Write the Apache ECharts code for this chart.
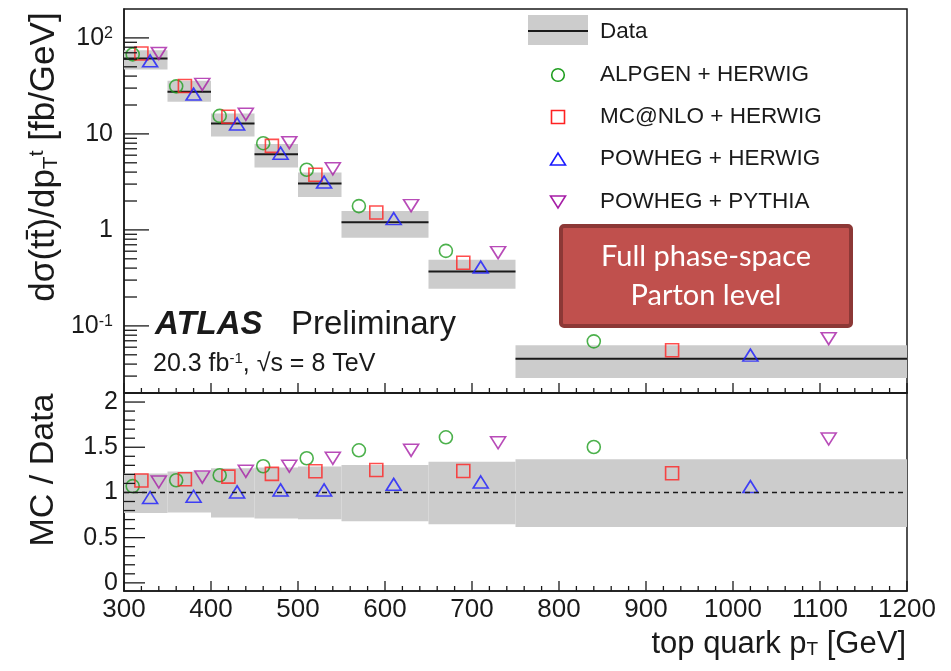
<!DOCTYPE html>
<html>
<head>
<meta charset="utf-8">
<script src="https://cdn.jsdelivr.net/npm/echarts@6/dist/echarts.min.js"></script>
<style>
  html, body { margin: 0; padding: 0; background: #fff; }
  #chart { width: 951px; height: 671px; }
</style>
</head>
<body>
<div id="chart"></div>
<script>
// top quark pT bins [GeV]
const binLow  = [300, 350, 400, 450, 500, 550, 650, 750];
const binHigh = [350, 400, 450, 500, 550, 650, 750, 1200];

// measured cross section dσ/dpT [fb/GeV] with total uncertainty band
const dataXsec = [61, 27.5, 12.8, 6.15, 3.05, 1.2, 0.369, 0.0454];
const dataUp   = [74.5, 35.8, 16.3, 7.87, 3.96, 1.57, 0.49, 0.063];
const dataDown = [47, 21.6, 9.4, 4.47, 2.2, 0.83, 0.244, 0.0286];

// predictions (x positions are shifted inside each bin)
const alpgenX  = [310, 360, 410, 460, 510, 570, 670, 840];
const mcnloX   = [320, 370, 420, 470, 520, 590, 690, 930];
const powhegHX = [330, 380, 430, 480, 530, 610, 710, 1020];
const powhegPX = [340, 390, 440, 490, 540, 630, 730, 1110];

const alpgenXsec  = [67.3, 31.3, 15.4, 8.0, 4.23, 1.77, 0.605, 0.069];
const mcnloXsec   = [68.9, 31.5, 15.1, 7.5, 3.75, 1.52, 0.455, 0.0558];
const powhegHXsec = [57.7, 26.0, 12.7, 6.3, 3.15, 1.31, 0.41, 0.0496];
const powhegPXsec = [68.9, 32.8, 16.0, 8.1, 4.33, 1.79, 0.58, 0.0736];

// MC / Data ratio
const alpgenRatio  = [1.07, 1.135, 1.19, 1.29, 1.378, 1.466, 1.61, 1.503];
const mcnloRatio   = [1.133, 1.146, 1.175, 1.205, 1.234, 1.249, 1.238, 1.212];
const powhegHRatio = [0.944, 0.958, 1.006, 1.028, 1.028, 1.09, 1.116, 1.065];
const powhegPRatio = [1.116, 1.17, 1.234, 1.29, 1.378, 1.466, 1.55, 1.591];
const ratioUp   = [1.21, 1.231, 1.267, 1.275, 1.286, 1.304, 1.34, 1.367];
const ratioDown = [0.773, 0.778, 0.722, 0.711, 0.704, 0.682, 0.649, 0.619];
const ratioRef = 1;

// axis ranges and ticks
const xMin = 300, xMax = 1200;
const xsecMin = 0.02, xsecMax = 200;
const ratioMin = -0.09, ratioMax = 2.1;
const xMajorTicks = [300, 400, 500, 600, 700, 800, 900, 1000, 1100, 1200];
const xMinorTicks = [320, 340, 360, 380, 420, 440, 460, 480, 520, 540, 560, 580,
  620, 640, 660, 680, 720, 740, 760, 780, 820, 840, 860, 880,
  920, 940, 960, 980, 1020, 1040, 1060, 1080, 1120, 1140, 1160, 1180];
const logTickValues = [0.1, 1, 10, 100];
const logTickLabels = ['{b|10}{s|-1}', '{b|1}', '{b|10}', '{b|10}{s|2}'];
const logMinorTicks = [0.03, 0.04, 0.05, 0.06, 0.07, 0.08, 0.09,
  0.2, 0.3, 0.4, 0.5, 0.6, 0.7, 0.8, 0.9,
  2, 3, 4, 5, 6, 7, 8, 9,
  20, 30, 40, 50, 60, 70, 80, 90];
const ratioMajorTicks = [0, 0.5, 1, 1.5, 2];
const ratioMinorTicks = [0.1, 0.2, 0.3, 0.4, 0.6, 0.7, 0.8, 0.9,
  1.1, 1.2, 1.3, 1.4, 1.6, 1.7, 1.8, 1.9];

const FONT = "'Liberation Sans', Arial, Helvetica, sans-serif";
const INK = '#1a1a1a';

const chart = echarts.init(document.getElementById('chart'));

// gray band (+ optional central line) for each bin
function bandRender(withLine) {
  return function (params, api) {
    const lo = api.value(0), hi = api.value(1);
    const pTop = api.coord([lo, api.value(4)]);
    const pBot = api.coord([hi, api.value(3)]);
    const children = [{
      type: 'rect',
      shape: { x: pTop[0], y: pTop[1], width: pBot[0] - pTop[0], height: pBot[1] - pTop[1] },
      style: { fill: '#cccccc' }
    }];
    if (withLine) {
      const c0 = api.coord([lo, api.value(2)]);
      const c1 = api.coord([hi, api.value(2)]);
      children.push({
        type: 'line',
        shape: { x1: c0[0], y1: c0[1], x2: c1[0], y2: c1[1] },
        style: { stroke: INK, lineWidth: 2 }
      });
    }
    return { type: 'group', children };
  };
}

// ROOT-style inward ticks on the left y axis, placed through the axis scale
let tickCount = 0;
function tickSeries(idx, values, len) {
  tickCount++;
  return {
    type: 'custom', id: 'yticks' + tickCount, name: 'yticks' + tickCount,
    xAxisIndex: idx, yAxisIndex: idx,
    silent: true, z: 5,
    encode: { x: 0, y: 1 },
    data: values.map(v => [xMin, v]),
    renderItem: (params, api) => {
      const p = api.coord([api.value(0), api.value(1)]);
      return {
        type: 'group',
        children: [{ type: 'rect', shape: { x: p[0], y: p[1] - 0.65, width: len, height: 1.3 }, style: { fill: INK } }]
      };
    }
  };
}

function mcSeries(name, idx, xs, ys, symbol, size, color, rotate) {
  return {
    name, type: 'scatter',
    xAxisIndex: idx, yAxisIndex: idx,
    data: xs.map((x, i) => [x, ys[i]]),
    symbol, symbolSize: size, symbolRotate: rotate || 0,
    itemStyle: { color: 'rgba(255,255,255,0)', borderColor: color, borderWidth: 1.6 },
    z: 4
  };
}

function xAxisFor(gridIndex, withLabels) {
  return {
    gridIndex, type: 'value', min: xMin, max: xMax, interval: 100,
    axisLine: { show: true, onZero: false, lineStyle: { color: INK, width: 1.5 } },
    axisTick: { show: false },
    splitLine: { show: false },
    axisLabel: withLabels
      ? { show: true, fontSize: 26, fontFamily: FONT, color: INK, margin: 6, formatter: v => String(v) }
      : { show: false }
  };
}

const GREEN = '#1f9e1f', RED = '#ff2222', BLUE = '#1a1aff', PURPLE = '#a61ea6';

chart.setOption({
  animation: false,
  grid: [
    { left: 124, top: 9, width: 783, height: 384, show: true, borderColor: INK, borderWidth: 1.5 },
    { left: 124, top: 393, width: 783, height: 198, show: true, borderColor: INK, borderWidth: 1.5 }
  ],
  xAxis: [xAxisFor(0, false), xAxisFor(1, true)],
  yAxis: [
    {
      gridIndex: 0, type: 'log', logBase: 10, min: xsecMin, max: xsecMax,
      axisLine: { show: true, onZero: false, lineStyle: { color: INK, width: 1.5 } },
      axisTick: { show: false },
      splitLine: { show: false },
      axisLabel: {
        margin: 11, showMinLabel: false, showMaxLabel: false,
        formatter: v => {
          const i = logTickValues.findIndex(t => Math.abs(Math.log10(t) - Math.log10(v)) < 1e-6);
          return i >= 0 ? logTickLabels[i] : '';
        },
        rich: {
          b: { fontSize: 25, fontFamily: FONT, color: INK },
          s: { fontSize: 16, fontFamily: FONT, color: INK, verticalAlign: 'top' }
        }
      }
    },
    {
      gridIndex: 1, type: 'value', min: ratioMin, max: ratioMax,
      axisLine: { show: true, onZero: false, lineStyle: { color: INK, width: 1.5 } },
      axisTick: { show: false },
      splitLine: { show: false },
      axisLabel: {
        margin: 6, showMinLabel: false, showMaxLabel: false,
        fontSize: 25, fontFamily: FONT, color: INK
      }
    }
  ],
  series: [
    {
      type: 'custom', name: 'Data', xAxisIndex: 0, yAxisIndex: 0, z: 2, silent: true,
      encode: { x: [0, 1], y: [2, 3, 4] },
      data: binLow.map((lo, i) => [lo, binHigh[i], dataXsec[i], dataDown[i], dataUp[i]]),
      renderItem: bandRender(true)
    },
    {
      type: 'custom', name: 'Data ratio', xAxisIndex: 1, yAxisIndex: 1, z: 2, silent: true,
      encode: { x: [0, 1], y: [2, 3, 4] },
      data: binLow.map((lo, i) => [lo, binHigh[i], ratioRef, ratioDown[i], ratioUp[i]]),
      renderItem: bandRender(false),
      markLine: {
        silent: true, symbol: 'none', label: { show: false },
        lineStyle: { color: INK, type: [5, 4], width: 1.3 },
        data: [{ yAxis: ratioRef }]
      }
    },
    tickSeries(0, logTickValues, 25),
    tickSeries(0, logMinorTicks, 13),
    tickSeries(1, ratioMajorTicks, 21),
    tickSeries(1, ratioMinorTicks, 11),
    mcSeries('ALPGEN + HERWIG', 0, alpgenX, alpgenXsec, 'circle', 13, GREEN),
    mcSeries('MC@NLO + HERWIG', 0, mcnloX, mcnloXsec, 'rect', 13, RED),
    mcSeries('POWHEG + HERWIG', 0, powhegHX, powhegHXsec, 'triangle', [15, 12], BLUE),
    mcSeries('POWHEG + PYTHIA', 0, powhegPX, powhegPXsec, 'triangle', [15, 12], PURPLE, 180),
    mcSeries('ALPGEN + HERWIG', 1, alpgenX, alpgenRatio, 'circle', 13, GREEN),
    mcSeries('MC@NLO + HERWIG', 1, mcnloX, mcnloRatio, 'rect', 13, RED),
    mcSeries('POWHEG + HERWIG', 1, powhegHX, powhegHRatio, 'triangle', [15, 12], BLUE),
    mcSeries('POWHEG + PYTHIA', 1, powhegPX, powhegPRatio, 'triangle', [15, 12], PURPLE, 180)
  ]
});

// bottom-axis ticks of both panels, positioned with the chart's own scales
const xTickMarks = [];
[[0, xsecMin], [1, ratioMin]].forEach(([idx, anchor]) => {
  [[xMajorTicks, 10], [xMinorTicks, 5]].forEach(([values, len]) => {
    values.forEach(v => {
      const p = chart.convertToPixel({ xAxisIndex: idx, yAxisIndex: idx }, [v, anchor]);
      xTickMarks.push({
        type: 'rect', z: 6, silent: true,
        shape: { x: p[0] - 0.65, y: p[1] - len, width: 1.3, height: len },
        style: { fill: INK }
      });
    });
  });
});

const labels = [
  // axis titles
  {
    type: 'text', x: 44, y: 157, rotation: Math.PI / 2, z: 10,
    style: {
      text: 'dσ(tt\u0304)/dp{sub|T}{sup|t} [fb/GeV]',
      fontSize: 35, fontFamily: FONT, fill: INK, align: 'center', verticalAlign: 'middle',
      rich: {
        sub: { fontSize: 21, fontFamily: FONT, fill: INK, verticalAlign: 'bottom' },
        sup: { fontSize: 21, fontFamily: FONT, fill: INK, verticalAlign: 'top' }
      }
    }
  },
  {
    type: 'text', x: 44, y: 470, rotation: Math.PI / 2, z: 10,
    style: { text: 'MC / Data', fontSize: 34, fontFamily: FONT, fill: INK, align: 'center', verticalAlign: 'middle' }
  },
  {
    type: 'text', x: 906, y: 644, z: 10,
    style: {
      text: 'top quark p{sub|T} [GeV]',
      fontSize: 31, fontFamily: FONT, fill: INK, align: 'right', verticalAlign: 'middle',
      rich: { sub: { fontSize: 19, fontFamily: FONT, fill: INK, verticalAlign: 'bottom' } }
    }
  },
  // ATLAS label
  {
    type: 'text', x: 155, y: 325, z: 10,
    style: { text: 'ATLAS', fontSize: 33, fontWeight: 'bold', fontStyle: 'italic', fontFamily: FONT, fill: INK, align: 'left', verticalAlign: 'middle' }
  },
  {
    type: 'text', x: 291, y: 325, z: 10,
    style: { text: 'Preliminary', fontSize: 33, fontFamily: FONT, fill: INK, align: 'left', verticalAlign: 'middle' }
  },
  {
    type: 'text', x: 153, y: 364, z: 10,
    style: {
      text: '20.3 fb{sup|-1}, √s = 8 TeV',
      fontSize: 25, fontFamily: FONT, fill: INK, align: 'left', verticalAlign: 'middle',
      rich: { sup: { fontSize: 15, fontFamily: FONT, fill: INK, verticalAlign: 'top' } }
    }
  },
  // legend
  { type: 'rect', z: 10, shape: { x: 528, y: 15, width: 60, height: 30 }, style: { fill: '#cccccc' } },
  { type: 'line', z: 11, shape: { x1: 528, y1: 31, x2: 588, y2: 31 }, style: { stroke: INK, lineWidth: 2 } },
  { type: 'text', x: 600, y: 32, z: 10, style: { text: 'Data', fontSize: 22.5, fontFamily: FONT, fill: INK, verticalAlign: 'middle' } },
  { type: 'circle', z: 10, shape: { cx: 558, cy: 75, r: 6.3 }, style: { fill: 'none', stroke: GREEN, lineWidth: 1.6 } },
  { type: 'text', x: 600, y: 75, z: 10, style: { text: 'ALPGEN + HERWIG', fontSize: 22.5, fontFamily: FONT, fill: INK, verticalAlign: 'middle' } },
  { type: 'rect', z: 10, shape: { x: 551.5, y: 110.5, width: 13, height: 13 }, style: { fill: 'none', stroke: RED, lineWidth: 1.6 } },
  { type: 'text', x: 600, y: 117, z: 10, style: { text: 'MC@NLO + HERWIG', fontSize: 22.5, fontFamily: FONT, fill: INK, verticalAlign: 'middle' } },
  { type: 'polygon', z: 10, shape: { points: [[550.5, 165], [565.5, 165], [558, 153]] }, style: { fill: 'none', stroke: BLUE, lineWidth: 1.6 } },
  { type: 'text', x: 600, y: 159, z: 10, style: { text: 'POWHEG + HERWIG', fontSize: 22.5, fontFamily: FONT, fill: INK, verticalAlign: 'middle' } },
  { type: 'polygon', z: 10, shape: { points: [[550.5, 196], [565.5, 196], [558, 208]] }, style: { fill: 'none', stroke: PURPLE, lineWidth: 1.6 } },
  { type: 'text', x: 600, y: 202, z: 10, style: { text: 'POWHEG + PYTHIA', fontSize: 22.5, fontFamily: FONT, fill: INK, verticalAlign: 'middle' } },
  // phase-space note
  {
    type: 'rect', z: 10,
    shape: { x: 561, y: 226, width: 290, height: 100, r: 3 },
    style: { fill: '#c0504d', stroke: '#8c3836', lineWidth: 4 }
  },
  { type: 'text', x: 706, y: 257, z: 11, style: { text: 'Full phase-space', fontSize: 29, fontFamily: 'Lato, "Open Sans", sans-serif', fill: '#fff', align: 'center', verticalAlign: 'middle' } },
  { type: 'text', x: 706, y: 296, z: 11, style: { text: 'Parton level', fontSize: 29, fontFamily: 'Lato, "Open Sans", sans-serif', fill: '#fff', align: 'center', verticalAlign: 'middle' } }
];

chart.setOption({ graphic: labels.concat(xTickMarks) });

window.addEventListener('resize', () => chart.resize());
</script>
</body>
</html>
